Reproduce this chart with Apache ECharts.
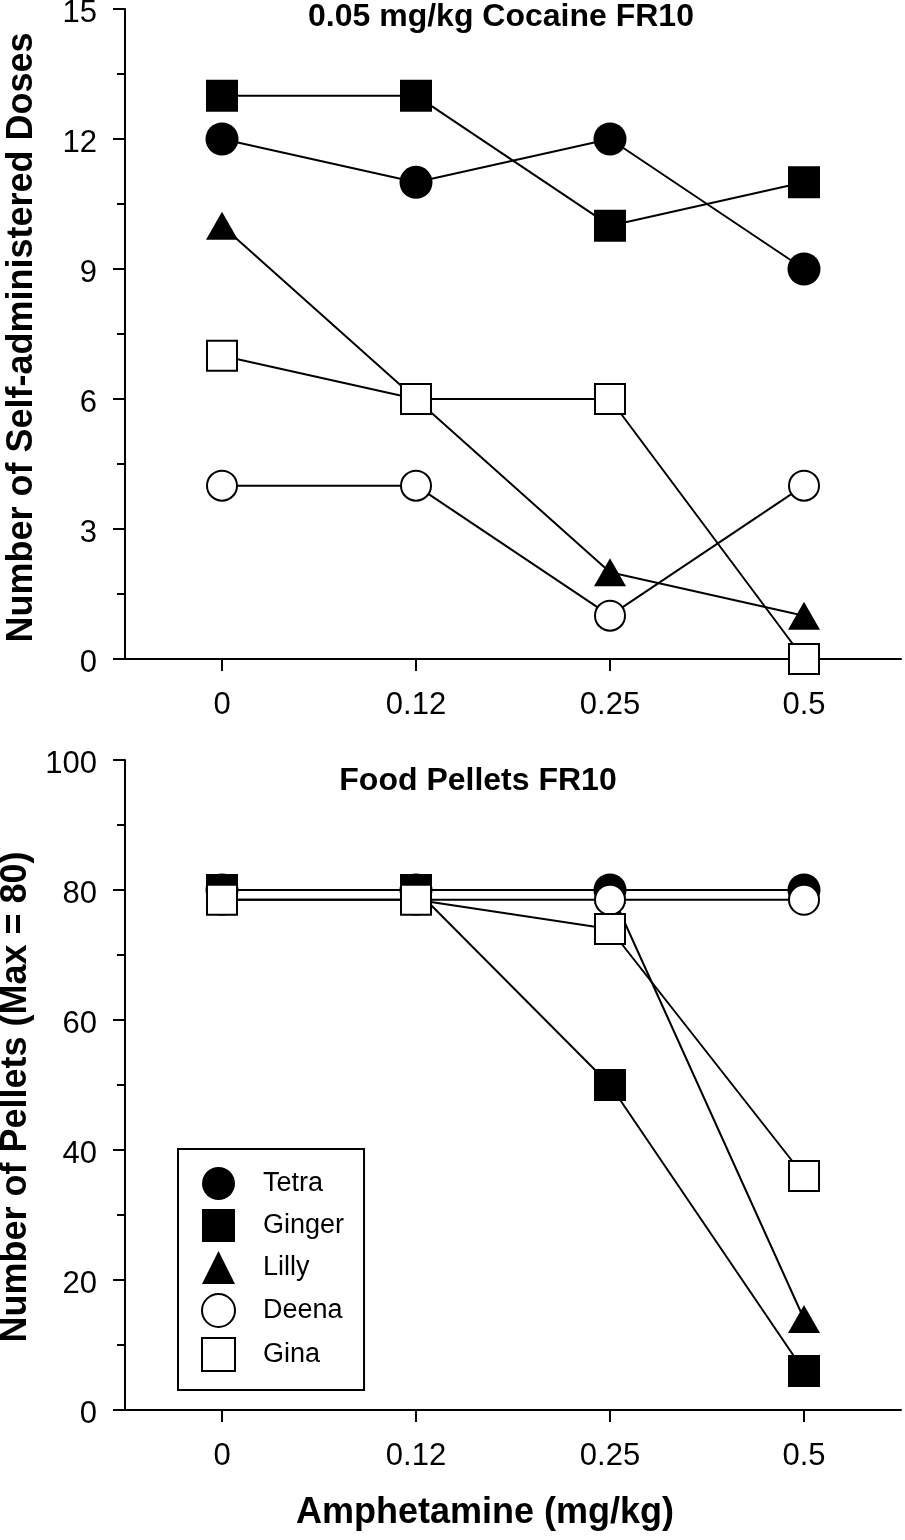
<!DOCTYPE html>
<html>
<head>
<meta charset="utf-8">
<script src="https://cdn.jsdelivr.net/npm/echarts@6/dist/echarts.min.js"></script>
<style>
  html, body { margin: 0; padding: 0; background: #fff; }
  #chart { width: 905px; height: 1540px; }
</style>
</head>
<body>
<div id="chart"></div>
<script>
// ---- Data ----
const doseCategories = ['0', '0.12', '0.25', '0.5'];
const subjectNames = ['Tetra', 'Ginger', 'Lilly', 'Deena', 'Gina'];

// Top panel: 0.05 mg/kg Cocaine FR10 (self-administered doses)
const cocaineTetra  = [12, 11, 12, 9];
const cocaineGinger = [13, 13, 10, 11];
const cocaineLilly  = [10, 6, 2, 1];
const cocaineDeena  = [4, 4, 1, 4];
const cocaineGina   = [7, 6, 6, 0];

// Bottom panel: Food Pellets FR10 (pellets, max 80)
const foodTetra  = [80, 80, 80, 80];
const foodGinger = [80, 80, 50, 6];
const foodLilly  = [80, 80, 80, 14];
const foodDeena  = [78.5, 78.5, 78.5, 78.5];
const foodGina   = [78.5, 78.5, 74, 36];

const topTitle = '0.05 mg/kg Cocaine FR10';
const bottomTitle = 'Food Pellets FR10';
const xTitle = 'Amphetamine (mg/kg)';
const topYTitle = 'Number of Self-administered Doses';
const bottomYTitle = 'Number of Pellets (Max = 80)';

// ---- Styles ----
const FONT = '"Liberation Sans", Arial, Helvetica, sans-serif';
const styles = {
  Tetra:  { symbol: 'circle',   size: 33, itemStyle: { color: '#000', borderWidth: 0 } },
  Ginger: { symbol: 'rect',     size: 32, itemStyle: { color: '#000', borderWidth: 0 } },
  Lilly:  { symbol: 'triangle', size: [32, 28], itemStyle: { color: '#000', borderWidth: 0 } },
  Deena:  { symbol: 'circle',   size: 30, itemStyle: { color: '#fff', borderColor: '#000', borderWidth: 2 } },
  Gina:   { symbol: 'rect',     size: 30, itemStyle: { color: '#fff', borderColor: '#000', borderWidth: 2 } }
};

function mkSeries(name, data, idx) {
  const s = styles[name];
  return {
    type: 'line',
    name: name,
    xAxisIndex: idx, yAxisIndex: idx,
    data: data,
    symbol: s.symbol,
    symbolSize: s.size,
    showAllSymbol: true,
    itemStyle: s.itemStyle,
    lineStyle: { color: '#000', width: 2 },
    color: '#000',
    emphasis: { disabled: true },
    animation: false
  };
}

function mkXAxis(idx) {
  return {
    type: 'category', gridIndex: idx, data: doseCategories,
    boundaryGap: true,
    axisLine: { show: true, lineStyle: { color: '#000', width: 2 } },
    axisTick: { show: true, alignWithLabel: true, length: 12, lineStyle: { color: '#000', width: 2 } },
    axisLabel: { color: '#000', fontSize: 31, fontFamily: FONT, margin: 31 },
    splitLine: { show: false }
  };
}

function mkYAxis(idx, max, interval, name, shift) {
  return {
    type: 'value', gridIndex: idx, min: 0, max: max, interval: interval,
    name: name, nameLocation: 'middle', nameGap: 85,
    nameTextStyle: { color: '#000', fontSize: 36, fontWeight: 'bold', fontFamily: FONT, padding: [0, shift, 0, 0] },
    axisLine: { show: true, lineStyle: { color: '#000', width: 2 } },
    axisTick: { show: true, length: 12, lineStyle: { color: '#000', width: 2 } },
    minorTick: { show: true, splitNumber: 2, length: 8, lineStyle: { color: '#000', width: 2 } },
    axisLabel: {
      color: '#000', fontSize: 31, fontFamily: FONT, margin: 28,
      formatter: '{v|{value}}',
      rich: { v: { color: '#000', fontSize: 31, fontFamily: FONT, padding: [8, 0, 0, 0] } }
    },
    splitLine: { show: false },
    minorSplitLine: { show: false }
  };
}

const chart = echarts.init(document.getElementById('chart'));
const option = {
  animation: false,
  backgroundColor: '#fff',
  grid: [
    { left: 125, right: 4, top: 9, height: 650, containLabel: false, outerBoundsMode: 'none' },
    { left: 125, right: 4, top: 760, height: 650, containLabel: false, outerBoundsMode: 'none' }
  ],
  xAxis: [mkXAxis(0), mkXAxis(1)],
  yAxis: [mkYAxis(0, 15, 3, topYTitle, 7), mkYAxis(1, 100, 20, bottomYTitle, 24)],
  legend: {
    left: 178, top: 1149, orient: 'vertical',
    padding: [18, 20, 18, 23],
    itemWidth: 33, itemHeight: 33, itemGap: 9,
    borderColor: '#000', borderWidth: 2,
    selectedMode: false,
    textStyle: { color: '#000', fontSize: 27, fontFamily: FONT, padding: [0, 0, 0, 23] },
    data: [
      { name: 'Tetra', icon: 'circle' },
      { name: 'Ginger', icon: 'rect' },
      { name: 'Lilly', icon: 'triangle' },
      { name: 'Deena', icon: 'circle' },
      { name: 'Gina', icon: 'rect' }
    ]
  },
  graphic: [
    { type: 'text', x: 501, y: 1, style: { text: topTitle, fill: '#000', font: 'bold 32px ' + FONT, align: 'center', verticalAlign: 'top', textAlign: 'center', textVerticalAlign: 'top' } },
    { type: 'text', x: 478, y: 765, style: { text: bottomTitle, fill: '#000', font: 'bold 32px ' + FONT, align: 'center', verticalAlign: 'top', textAlign: 'center', textVerticalAlign: 'top' } },
    { type: 'text', x: 485, y: 1495, style: { text: xTitle, fill: '#000', font: 'bold 36px ' + FONT, align: 'center', verticalAlign: 'top', textAlign: 'center', textVerticalAlign: 'top' } }
  ],
  series: [
    mkSeries('Tetra', cocaineTetra, 0),
    mkSeries('Ginger', cocaineGinger, 0),
    mkSeries('Lilly', cocaineLilly, 0),
    mkSeries('Deena', cocaineDeena, 0),
    mkSeries('Gina', cocaineGina, 0),
    mkSeries('Tetra', foodTetra, 1),
    mkSeries('Ginger', foodGinger, 1),
    mkSeries('Lilly', foodLilly, 1),
    mkSeries('Deena', foodDeena, 1),
    mkSeries('Gina', foodGina, 1)
  ]
};
chart.setOption(option);
</script>
</body>
</html>
